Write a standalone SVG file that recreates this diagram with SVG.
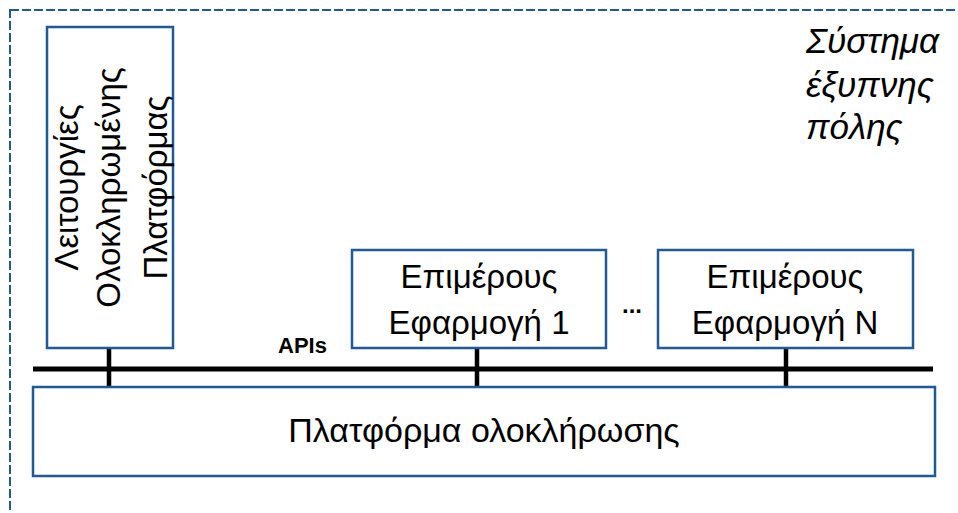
<svg xmlns="http://www.w3.org/2000/svg" width="958" height="513" viewBox="0 0 958 513">
<style>
.box{fill:#fff;stroke:#1F5A96;stroke-width:2.5}
.t{font-family:"Liberation Sans",Arial,sans-serif;fill:#000}
.bus{stroke:#000;stroke-width:5;fill:none}
.stub{stroke:#000;stroke-width:4.5;fill:none}
</style>
<rect width="958" height="513" fill="#fff"/>
<rect x="10" y="10" width="960" height="520" fill="none" stroke="#1F5A96" stroke-width="2" stroke-dasharray="9,3"/>
<text class="t" x="806" y="53" font-size="35" font-style="italic">Σύστημα</text>
<text class="t" x="806" y="97" font-size="35" font-style="italic">έξυπνης</text>
<text class="t" x="806" y="139" font-size="35" font-style="italic">πόλης</text>
<g id="connectors">
<line class="bus" x1="33" y1="369" x2="933" y2="369"/>
<line class="stub" x1="109" y1="348" x2="109" y2="387"/>
<line class="stub" x1="477" y1="348" x2="477" y2="387"/>
<line class="stub" x1="786" y1="348" x2="786" y2="387"/>
<text class="t" x="278" y="353" font-size="22" font-weight="bold">APIs</text>
</g>
<g id="node-left">
<rect class="box" x="47" y="27" width="126" height="321"/>
<g transform="translate(110,187.5) rotate(-90)" class="t" font-size="33" text-anchor="middle">
<text x="0" y="-32">Λειτουργίες</text>
<text x="0" y="10">Ολοκληρωμένης</text>
<text x="0" y="57">Πλατφόρμας</text>
</g>
</g>
<g id="node-app1">
<rect class="box" x="352" y="250" width="254" height="98"/>
<text class="t" x="479" y="288" font-size="33" text-anchor="middle">Επιμέρους</text>
<text class="t" x="479" y="334" font-size="33" text-anchor="middle">Εφαρμογή 1</text>
</g>
<text class="t" x="632" y="313" font-size="24" font-weight="bold" text-anchor="middle">...</text>
<g id="node-appN">
<rect class="box" x="658" y="250" width="255" height="98"/>
<text class="t" x="785" y="288" font-size="33" text-anchor="middle">Επιμέρους</text>
<text class="t" x="785" y="334" font-size="33" text-anchor="middle">Εφαρμογή N</text>
</g>
<g id="node-platform">
<rect class="box" x="33" y="387" width="902" height="89" stroke-width="3"/>
<text class="t" x="484" y="442" font-size="34" text-anchor="middle">Πλατφόρμα ολοκλήρωσης</text>
</g>
</svg>
